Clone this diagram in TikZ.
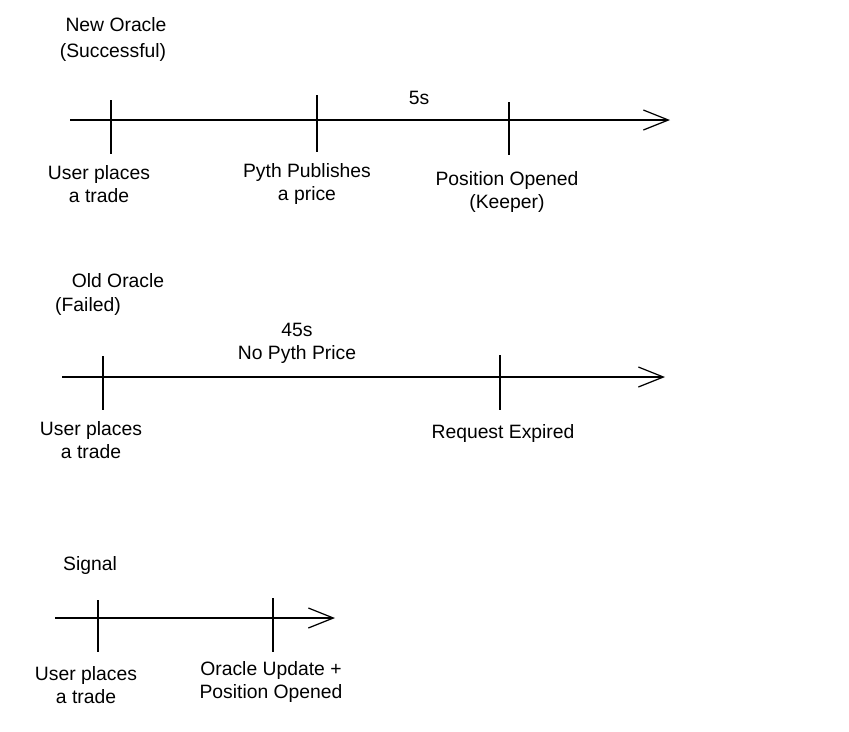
\documentclass[tikz,border=0pt]{standalone}
\usepackage{fontspec}
\setmainfont{Liberation Sans}
\usetikzlibrary{arrows.meta}

\tikzset{
  timeline/.style={line width=0.7pt,-{Straight Barb[length=5mm,width=4mm,line width=0.7pt]}},
  tick/.style={line width=0.8pt},
  lbl/.style={align=center,font=\fontsize{11}{13}\selectfont,inner sep=0pt},
}

\begin{document}
\begin{tikzpicture}[x=0.02cm,y=-0.02cm]
  \useasboundingbox (0,0) rectangle (849,731);
  % New oracle, successful
  \node[lbl]    (t1a)       at (116,25) {New Oracle};
  \node[lbl]    (t1b)       at (113,52) {(Successful)};
  \coordinate   (s1)        at (70,120);
  \coordinate   (e1)        at (670,120);
  \draw[timeline] (s1) -- (e1);
  \coordinate   (u1t)       at (111,100);
  \coordinate   (u1b)       at (111,154);
  \coordinate   (p1t)       at (317,95);
  \coordinate   (p1b)       at (317,152);
  \coordinate   (k1t)       at (509,102);
  \coordinate   (k1b)       at (509,155);
  \draw[tick] (u1t) -- (u1b);
  \draw[tick] (p1t) -- (p1b);
  \draw[tick] (k1t) -- (k1b);
  \node[lbl]    (user1)     at (99,184) {User places\\a trade};
  \node[lbl]    (pyth1)     at (307,184) {Pyth Publishes\\a price};
  \node[lbl]    (d1)        at (419,98) {5s};
  \node[lbl]    (open1)     at (507,192) {Position Opened\\(Keeper)};
  % Old oracle, failed
  \node[lbl]    (t2a)       at (118,281) {Old Oracle};
  \node[lbl]    (t2b)       at (88,306) {(Failed)};
  \coordinate   (s2)        at (62,377);
  \coordinate   (e2)        at (665,377);
  \draw[timeline] (s2) -- (e2);
  \coordinate   (u2t)       at (103,356);
  \coordinate   (u2b)       at (103,410);
  \coordinate   (x2t)       at (500,355);
  \coordinate   (x2b)       at (500,410);
  \draw[tick] (u2t) -- (u2b);
  \draw[tick] (x2t) -- (x2b);
  \node[lbl]    (d2)        at (297,343) {45s\\No Pyth Price};
  \node[lbl]    (user2)     at (91,440) {User places\\a trade};
  \node[lbl]    (exp2)      at (503,433) {Request Expired};
  % Signal
  \node[lbl]    (t3)        at (90,565) {Signal};
  \coordinate   (s3)        at (55,618);
  \coordinate   (e3)        at (335,618);
  \draw[timeline] (s3) -- (e3);
  \coordinate   (u3t)       at (98,600);
  \coordinate   (u3b)       at (98,652);
  \coordinate   (o3t)       at (273,598);
  \coordinate   (o3b)       at (273,652);
  \draw[tick] (u3t) -- (u3b);
  \draw[tick] (o3t) -- (o3b);
  \node[lbl]    (user3)     at (86,685) {User places\\a trade};
  \node[lbl]    (upd3)      at (271,682) {Oracle Update +\\Position Opened};
\end{tikzpicture}
\end{document}
